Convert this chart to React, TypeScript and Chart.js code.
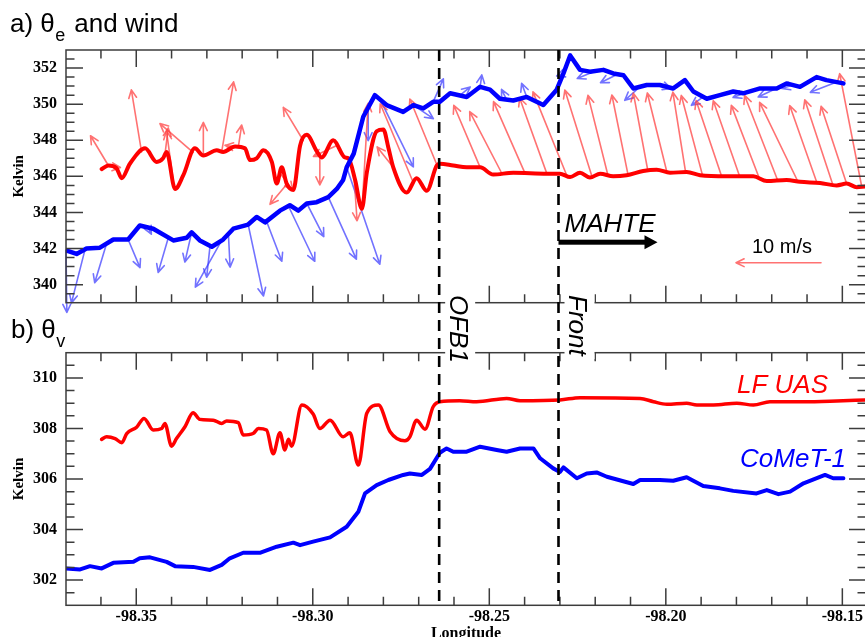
import React, { useEffect, useRef } from "react";
import { Chart, registerables } from "chart.js";

Chart.register(...registerables);

// ---------------- data ----------------
const LON_MIN = -98.3699;
const LON_MAX = -98.1433;
const lonTicks = [-98.35, -98.3, -98.25, -98.2, -98.15];
const thetaETicks = [340, 342, 344, 346, 348, 350, 352];
const thetaVTicks = [302, 304, 306, 308, 310];
const THETA_E_RANGE = [339, 353];
const THETA_V_RANGE = [301, 311];
const OFB1_LON = -98.2642;
const FRONT_LON = -98.2304;
const KEY_SPEED = 10; // m/s

// LF UAS theta_e  [lon, K]
const uasThetaE: number[][] = [
  [-98.3598, 346.4], [-98.3579, 346.6], [-98.3556, 346.45], [-98.3541, 345.9], [-98.3518, 346.7],
  [-98.3475, 347.55], [-98.3442, 346.8], [-98.3424, 347.0], [-98.3414, 347.35], [-98.339, 345.3],
  [-98.3367, 346.05], [-98.3334, 347.55], [-98.331, 347.15], [-98.3272, 347.45], [-98.3254, 347.35],
  [-98.322, 347.65], [-98.3192, 347.55], [-98.3178, 346.9], [-98.3159, 347.0], [-98.314, 347.45],
  [-98.3116, 346.8], [-98.3102, 345.6], [-98.3088, 346.5], [-98.3074, 345.6], [-98.3055, 345.25],
  [-98.3036, 347.7], [-98.3017, 348.3], [-98.2989, 347.4], [-98.2975, 347.05], [-98.2942, 348.0],
  [-98.2909, 347.05], [-98.2899, 347.0], [-98.288, 345.8], [-98.2861, 344.2], [-98.2847, 346.2],
  [-98.2819, 348.5], [-98.28, 348.6], [-98.2786, 347.6], [-98.2772, 346.5], [-98.2734, 345.1],
  [-98.2706, 345.9], [-98.2677, 345.2], [-98.2649, 346.6], [-98.264, 346.7], [-98.2602, 346.6],
  [-98.2564, 346.5], [-98.2526, 346.5], [-98.2489, 346.1], [-98.2432, 346.2], [-98.2337, 346.15],
  [-98.23, 346.15], [-98.2271, 345.96], [-98.2243, 346.2], [-98.2215, 345.93], [-98.2186, 346.15],
  [-98.2149, 346.0], [-98.2111, 346.06], [-98.2064, 346.3], [-98.2026, 346.37], [-98.1988, 346.2],
  [-98.1941, 346.24], [-98.1903, 346.06], [-98.1828, 346.0], [-98.1752, 346.0], [-98.1714, 345.74],
  [-98.1658, 345.8], [-98.162, 345.7], [-98.1563, 345.63], [-98.1516, 345.5], [-98.1488, 345.6],
  [-98.1459, 345.4], [-98.1436, 345.44],
];

// CoMeT-1 theta_e  [lon, K]
const cometThetaE: number[][] = [
  [-98.3699, 341.9], [-98.3669, 341.7], [-98.3641, 342.0], [-98.3603, 342.05], [-98.3565, 342.5],
  [-98.3523, 342.5], [-98.349, 343.28], [-98.3452, 343.1], [-98.3395, 342.45], [-98.3357, 342.6],
  [-98.3343, 342.9], [-98.332, 342.45], [-98.3286, 342.1], [-98.3254, 342.5], [-98.3225, 343.1],
  [-98.3183, 343.33], [-98.3159, 343.75], [-98.3135, 343.45], [-98.3093, 344.1], [-98.3065, 344.4],
  [-98.3041, 344.1], [-98.3017, 344.5], [-98.2989, 344.57], [-98.2956, 344.85], [-98.2932, 345.3],
  [-98.2914, 345.8], [-98.2904, 346.5], [-98.2884, 347.26], [-98.2857, 349.3], [-98.2824, 350.5],
  [-98.2791, 349.95], [-98.2744, 349.57], [-98.2715, 349.95], [-98.2687, 349.76], [-98.2659, 350.13],
  [-98.264, 350.13], [-98.2611, 350.6], [-98.2564, 350.4], [-98.2526, 350.96], [-98.2498, 350.8],
  [-98.247, 350.3], [-98.2432, 350.2], [-98.2394, 350.4], [-98.2347, 349.95], [-98.2309, 350.8],
  [-98.229, 351.7], [-98.2271, 352.7], [-98.2243, 351.9], [-98.2215, 351.8], [-98.2177, 351.9],
  [-98.2149, 351.7], [-98.212, 351.6], [-98.2092, 350.87], [-98.2054, 351.06], [-98.2017, 351.06],
  [-98.1979, 350.87], [-98.1946, 351.33], [-98.1922, 350.7], [-98.1884, 350.3], [-98.1847, 350.5],
  [-98.1809, 350.7], [-98.1781, 350.6], [-98.1733, 350.87], [-98.1686, 350.87], [-98.1658, 351.15],
  [-98.162, 350.96], [-98.1573, 351.5], [-98.1545, 351.33], [-98.1497, 351.15],
];

// LF UAS theta_v  [lon, K]
const uasThetaV: number[][] = [
  [-98.3598, 307.57], [-98.3584, 307.67], [-98.356, 307.6], [-98.3541, 307.44], [-98.3527, 307.8],
  [-98.3499, 308.05], [-98.3478, 308.4], [-98.3452, 307.94], [-98.3428, 308.0], [-98.3419, 308.2],
  [-98.34, 307.3], [-98.3386, 307.6], [-98.3362, 308.07], [-98.3339, 308.62], [-98.332, 308.36],
  [-98.3282, 308.33], [-98.3258, 308.2], [-98.3244, 308.3], [-98.3211, 308.23], [-98.3197, 307.74],
  [-98.3169, 307.8], [-98.3154, 308.0], [-98.3131, 307.94], [-98.3112, 307.0], [-98.3093, 307.83],
  [-98.3079, 307.15], [-98.3069, 307.57], [-98.306, 307.3], [-98.3031, 308.93], [-98.2999, 308.57],
  [-98.298, 308.0], [-98.2951, 308.33], [-98.2914, 307.67], [-98.2895, 307.83], [-98.2871, 306.55],
  [-98.2847, 308.6], [-98.2814, 308.93], [-98.2781, 307.87], [-98.2739, 307.51], [-98.2725, 307.67],
  [-98.2706, 308.33], [-98.2682, 307.97], [-98.2659, 308.86], [-98.264, 309.06], [-98.2584, 309.1],
  [-98.2536, 309.06], [-98.2451, 309.19], [-98.2413, 309.1], [-98.23, 309.13], [-98.2243, 309.22],
  [-98.2073, 309.19], [-98.2035, 309.06], [-98.1997, 308.96], [-98.1941, 309.0], [-98.1912, 308.93],
  [-98.1865, 308.93], [-98.1799, 309.0], [-98.1752, 308.93], [-98.1705, 309.06], [-98.161, 309.06],
  [-98.1516, 309.09], [-98.1436, 309.13],
];

// CoMeT-1 theta_v  [lon, K]
const cometThetaV: number[][] = [
  [-98.3699, 302.46], [-98.3659, 302.42], [-98.3631, 302.55], [-98.3598, 302.46], [-98.3565, 302.68],
  [-98.3508, 302.72], [-98.349, 302.86], [-98.3461, 302.9], [-98.3414, 302.72], [-98.339, 302.55],
  [-98.3339, 302.52], [-98.3291, 302.4], [-98.3258, 302.6], [-98.3235, 302.86], [-98.3197, 303.08],
  [-98.315, 303.08], [-98.3102, 303.32], [-98.3055, 303.48], [-98.3036, 303.38], [-98.2999, 303.52],
  [-98.2951, 303.69], [-98.2904, 304.11], [-98.2871, 304.7], [-98.2852, 305.43], [-98.2819, 305.76],
  [-98.2786, 305.96], [-98.2744, 306.16], [-98.2725, 306.22], [-98.2691, 306.16], [-98.2668, 306.4],
  [-98.264, 307.04], [-98.2621, 307.21], [-98.2602, 307.08], [-98.2564, 307.08], [-98.2526, 307.28],
  [-98.2479, 307.15], [-98.2451, 307.08], [-98.2413, 307.21], [-98.2375, 307.21], [-98.2356, 306.82],
  [-98.2319, 306.42], [-98.23, 306.28], [-98.229, 306.46], [-98.2252, 306.03], [-98.2224, 306.22],
  [-98.2196, 306.26], [-98.2167, 306.09], [-98.2092, 305.8], [-98.2073, 305.96], [-98.2017, 305.96],
  [-98.1979, 305.93], [-98.1941, 306.07], [-98.1894, 305.72], [-98.1847, 305.63], [-98.1809, 305.53],
  [-98.1743, 305.43], [-98.1714, 305.56], [-98.1681, 305.4], [-98.1648, 305.5], [-98.161, 305.83],
  [-98.1549, 306.16], [-98.1526, 306.03], [-98.1497, 306.03],
];

// LF UAS wind  [lon, u m/s, v m/s]
const uasWind: number[][] = [
  [-98.3579, -2.1, 3.5], [-98.3569, 1.0, -0.1], [-98.3485, -1.2, 7.3], [-98.3419, 0.4, 3.2],
  [-98.3395, -0.8, 5.9], [-98.3339, -3.9, 3.4], [-98.331, 0.0, 3.9], [-98.3258, 1.4, 8.2],
  [-98.3211, 0.4, 2.6], [-98.3192, -2.35, 0.35], [-98.3093, 1.5, -2.0], [-98.3073, -2.0, -2.4],
  [-98.3027, -2.35, 3.9], [-98.298, 0.0, -3.5], [-98.2932, -2.75, -1.3], [-98.2883, 0.35, -5.2],
  [-98.286, 0.7, 12.1], [-98.2772, -1.9, 2.4], [-98.2715, -3.9, 9.3], [-98.2648, -3.2, 7.8],
  [-98.2526, -3.1, 7.3], [-98.2464, -3.8, 7.3], [-98.2399, -3.7, 8.4], [-98.2337, -3.2, 8.9],
  [-98.228, -4.0, 9.9], [-98.2209, -3.2, 10.2], [-98.2164, -2.35, 9.4], [-98.2107, -1.9, 9.4],
  [-98.2051, -1.7, 9.1], [-98.1997, -2.3, 9.3], [-98.1944, -1.5, 9.4], [-98.1896, -2.5, 9.4],
  [-98.1842, -3.0, 8.9], [-98.1791, -3.1, 8.9], [-98.1735, -3.3, 8.6], [-98.1683, -3.9, 10.0],
  [-98.1626, -4.5, 9.3], [-98.1572, -3.2, 9.1], [-98.1527, -3.3, 10.0], [-98.1488, -3.0, 9.1],
  [-98.1445, -2.6, 13.3],
];

// CoMeT-1 wind  [lon, u m/s, v m/s]
const cometWind: number[][] = [
  [-98.3699, 0.1, -7.3], [-98.3645, -1.6, -6.3], [-98.3584, -1.4, -4.6], [-98.3523, 1.4, -3.3],
  [-98.3467, 0.4, -0.8], [-98.3409, -1.2, -4.1], [-98.3343, -0.8, -3.5], [-98.3291, -0.4, -3.7],
  [-98.3258, -3.1, -5.5], [-98.3239, 0.2, -3.9], [-98.3183, 1.8, -8.4], [-98.3131, 1.8, -4.7],
  [-98.3069, 3.1, -6.5], [-98.3017, 2.0, -3.9], [-98.2956, 3.3, -7.3], [-98.2904, 3.9, -11.4],
  [-98.2843, 0.0, -3.9], [-98.2809, 3.9, -7.9], [-98.2715, 2.35, -1.6], [-98.2659, 1.2, 2.7],
  [-98.2583, 1.2, 1.0], [-98.2526, 0.2, 1.4], [-98.2451, -0.6, 1.2], [-98.2394, -0.6, 1.6],
  [-98.229, -0.8, -0.3], [-98.2198, -2.2, -0.9], [-98.2137, -2.0, -1.0], [-98.2073, -1.8, -1.6],
  [-98.2007, 0.9, -0.3], [-98.1894, -1.4, -1.0], [-98.1771, -1.6, -0.6], [-98.1677, -2.55, -1.2],
  [-98.164, -1.3, -0.4], [-98.1516, -3.1, -1.2],
];

// ---------------- styles ----------------
const CANVAS_W = 870;
const TOP_H = 330;
const BOT_TOP = 290;
const BOT_H = 360;
const ARROW_PX_PER_MS = 8.5;
const RED = "#ff0000";
const BLUE = "#0000ff";
const RED_ARROW = "rgba(255,60,60,0.72)";
const BLUE_ARROW = "rgba(60,60,255,0.72)";
const FRAME = "#3c3c3c";
const SERIF = "'Liberation Serif', 'Times New Roman', serif";
const SANS = "'Liberation Sans', Arial, sans-serif";

function interp(series: number[][], x: number) {
  if (x <= series[0][0]) return series[0][1];
  for (let i = 1; i < series.length; i++) {
    if (x <= series[i][0]) {
      const [x0, y0] = series[i - 1];
      const [x1, y1] = series[i];
      return y0 + ((y1 - y0) * (x - x0)) / (x1 - x0);
    }
  }
  return series[series.length - 1][1];
}

function drawArrow(ctx: CanvasRenderingContext2D, x0: number, y0: number, x1: number, y1: number,
  color: string, lw: number, headLen: number, headAng: number) {
  const a = Math.atan2(y1 - y0, x1 - x0);
  ctx.save();
  ctx.strokeStyle = color;
  ctx.lineWidth = lw;
  ctx.lineCap = "round";
  ctx.lineJoin = "round";
  ctx.beginPath();
  ctx.moveTo(x0, y0);
  ctx.lineTo(x1, y1);
  ctx.moveTo(x1 - headLen * Math.cos(a - headAng), y1 - headLen * Math.sin(a - headAng));
  ctx.lineTo(x1, y1);
  ctx.lineTo(x1 - headLen * Math.cos(a + headAng), y1 - headLen * Math.sin(a + headAng));
  ctx.stroke();
  ctx.restore();
}

function drawWind(chart: any, series: number[][], winds: number[][], color: string) {
  const { ctx, scales } = chart;
  for (const [lon, u, v] of winds) {
    const x0 = scales.x.getPixelForValue(lon);
    const y0 = scales.y.getPixelForValue(interp(series, lon));
    drawArrow(ctx, x0, y0, x0 + u * ARROW_PX_PER_MS, y0 - v * ARROW_PX_PER_MS, color, 1.6, 9, 0.45);
  }
}

function drawFrame(chart: any, yRange: number[]) {
  const { ctx, chartArea, scales } = chart;
  const { left, right, top, bottom } = chartArea;
  ctx.save();
  ctx.strokeStyle = FRAME;
  ctx.lineWidth = 1.5;
  ctx.strokeRect(left, top, right - left, bottom - top);
  ctx.beginPath();
  for (let k = Math.ceil(LON_MIN * 100); k <= Math.floor(LON_MAX * 100); k++) {
    const px = scales.x.getPixelForValue(k / 100);
    const len = k % 5 === 0 ? 17 : 8.5;
    ctx.moveTo(px, bottom);
    ctx.lineTo(px, bottom - len);
    ctx.moveTo(px, top);
    ctx.lineTo(px, top + len);
  }
  for (let k = yRange[0] * 2 + 1; k < yRange[1] * 2; k++) {
    const py = scales.y.getPixelForValue(k / 2);
    const len = k % 4 === 0 ? 17 : 8.5;
    ctx.moveTo(left, py);
    ctx.lineTo(left + len, py);
    ctx.moveTo(right, py);
    ctx.lineTo(right - len, py);
  }
  ctx.stroke();
  ctx.restore();
}

function drawDashed(chart: any, lon: number, y0: number, y1: number, offset: number) {
  const { ctx, scales } = chart;
  const px = scales.x.getPixelForValue(lon);
  ctx.save();
  ctx.strokeStyle = "#000";
  ctx.lineWidth = 2.6;
  ctx.setLineDash([11, 7]);
  ctx.lineDashOffset = offset;
  ctx.beginPath();
  ctx.moveTo(px, y0);
  ctx.lineTo(px, y1);
  ctx.stroke();
  ctx.restore();
}

function drawPanelTitle(ctx: CanvasRenderingContext2D, x: number, baseline: number, letter: string, sub: string, rest: string) {
  ctx.save();
  ctx.fillStyle = "#000";
  ctx.textBaseline = "alphabetic";
  ctx.textAlign = "left";
  ctx.font = `26px ${SANS}`;
  const main = `${letter}) θ`;
  ctx.fillText(main, x, baseline);
  let cx = x + ctx.measureText(main).width + 0.5;
  ctx.font = `18px ${SANS}`;
  ctx.fillText(sub, cx, baseline + 9);
  cx += ctx.measureText(sub).width;
  if (rest) {
    ctx.font = `26px ${SANS}`;
    ctx.fillText(rest, cx + 9, baseline);
  }
  ctx.restore();
}

function drawRotatedLabel(chart: any, lon: number, text: string, y0: number, boxH: number) {
  const { ctx, scales } = chart;
  const px = scales.x.getPixelForValue(lon);
  ctx.save();
  ctx.fillStyle = "#fff";
  ctx.fillRect(px + 6, y0 - 2, 30, boxH);
  ctx.translate(px + 11, y0);
  ctx.rotate(Math.PI / 2);
  ctx.fillStyle = "#000";
  ctx.font = `italic 26px ${SANS}`;
  ctx.textBaseline = "alphabetic";
  ctx.textAlign = "left";
  ctx.fillText(text, 0, 0);
  ctx.restore();
}

const topPlugin = {
  id: "topPanel",
  beforeDatasetsDraw(chart: any) {
    drawWind(chart, cometThetaE, cometWind, BLUE_ARROW);
    drawWind(chart, uasThetaE, uasWind, RED_ARROW);
  },
  afterDatasetsDraw(chart: any) {
    const { ctx, chartArea, scales } = chart;
    drawFrame(chart, THETA_E_RANGE);
    drawDashed(chart, OFB1_LON, chartArea.top, BOT_TOP, 0);
    drawDashed(chart, FRONT_LON, chartArea.top, BOT_TOP, 0);
    drawPanelTitle(ctx, 10, 32, "a", "e", "and wind");

    // MAHTE motion arrow
    const fx = scales.x.getPixelForValue(FRONT_LON);
    ctx.save();
    ctx.fillStyle = "#000";
    ctx.font = `italic 26px ${SANS}`;
    ctx.textBaseline = "alphabetic";
    ctx.fillText("MAHTE", fx + 6, chartArea.bottom - 71);
    const ay = chartArea.bottom - 60.5;
    ctx.fillRect(fx, ay - 2.5, 88, 5);
    ctx.beginPath();
    ctx.moveTo(fx + 99, ay);
    ctx.lineTo(fx + 86, ay - 7);
    ctx.lineTo(fx + 86, ay + 7);
    ctx.closePath();
    ctx.fill();

    // key arrow 10 m/s
    const kx = chartArea.right - 45;
    const ky = chartArea.bottom - 40;
    ctx.font = `20px ${SANS}`;
    ctx.textAlign = "center";
    ctx.fillText(`${KEY_SPEED} m/s`, kx - 39, ky - 10);
    ctx.restore();
    drawArrow(ctx, kx, ky, kx - KEY_SPEED * ARROW_PX_PER_MS, ky, RED_ARROW, 1.6, 9, 0.45);
  },
};

const bottomPlugin = {
  id: "bottomPanel",
  afterDatasetsDraw(chart: any) {
    const { ctx, chartArea } = chart;
    drawFrame(chart, THETA_V_RANGE);
    drawDashed(chart, OFB1_LON, 0, chartArea.bottom, 240);
    drawDashed(chart, FRONT_LON, 0, chartArea.bottom, 240);
    drawPanelTitle(ctx, 11, 48, "b", "v", "");
    drawRotatedLabel(chart, OFB1_LON, "OFB1", 5, 70);
    drawRotatedLabel(chart, FRONT_LON, "Front", 5, 66);
    ctx.save();
    ctx.font = `italic 26px ${SANS}`;
    ctx.textBaseline = "alphabetic";
    ctx.textAlign = "right";
    ctx.fillStyle = RED;
    ctx.fillText("LF UAS", 828, 103);
    ctx.fillStyle = BLUE;
    ctx.fillText("CoMeT-1", 846, 177);
    ctx.restore();
  },
};

function lineDs(series: number[][], color: string, width: number, smooth: boolean) {
  return {
    data: series.map(([x, y]) => ({ x, y })),
    borderColor: color,
    backgroundColor: color,
    borderWidth: width,
    pointRadius: 0,
    fill: false,
    tension: 0,
    cubicInterpolationMode: smooth ? "monotone" : "default",
    borderJoinStyle: "round",
    borderCapStyle: "round",
  };
}

function makeOptions(yRange: number[], yTicks: number[], showX: boolean, padTop: number, xHeight: number) {
  const tickFont = { family: SERIF, size: 16, weight: "bold" };
  return {
    responsive: false,
    animation: false,
    devicePixelRatio: 1,
    events: [],
    layout: { padding: { top: padTop, left: 0, right: 4, bottom: 0 } },
    plugins: { legend: { display: false }, tooltip: { enabled: false } },
    scales: {
      x: {
        type: "linear",
        min: LON_MIN,
        max: LON_MAX,
        grid: { display: false, drawTicks: false, tickLength: 0 },
        border: { display: false },
        afterBuildTicks: (s: any) => {
          s.ticks = lonTicks.map((value) => ({ value }));
        },
        ticks: {
          display: showX,
          padding: 2,
          autoSkip: false,
          maxRotation: 0,
          color: "#000",
          font: tickFont,
          callback: (v: any) => Number(v).toFixed(2),
        },
        title: {
          display: showX,
          text: "Longitude",
          color: "#000",
          font: { family: SERIF, size: 16, weight: "bold" },
          padding: { top: 0, bottom: 7 },
        },
        afterFit: (s: any) => {
          s.height = xHeight;
        },
      },
      y: {
        type: "linear",
        min: yRange[0],
        max: yRange[1],
        grid: { display: false, drawTicks: false, tickLength: 0 },
        border: { display: false },
        afterBuildTicks: (s: any) => {
          s.ticks = yTicks.map((value) => ({ value }));
        },
        ticks: { padding: 9, color: "#000", font: tickFont, callback: (v: any) => String(v) },
        title: {
          display: true,
          text: "Kelvin",
          color: "#000",
          font: { family: SERIF, size: 15, weight: "bold" },
          padding: { top: 10, bottom: 0 },
        },
        afterFit: (s: any) => {
          s.width = 66;
        },
      },
    },
  };
}

export default function App() {
  const topRef = useRef<HTMLCanvasElement>(null);
  const botRef = useRef<HTMLCanvasElement>(null);

  useEffect(() => {
    const top = new Chart(topRef.current as HTMLCanvasElement, {
      type: "line",
      data: {
        datasets: [
          lineDs(cometThetaE, BLUE, 4.5, false),
          lineDs(uasThetaE, RED, 4, true),
        ],
      },
      options: makeOptions(THETA_E_RANGE, thetaETicks, false, 50, TOP_H - 302.7),
      plugins: [topPlugin],
    } as any);
    const bot = new Chart(botRef.current as HTMLCanvasElement, {
      type: "line",
      data: {
        datasets: [
          lineDs(cometThetaV, BLUE, 4, false),
          lineDs(uasThetaV, RED, 3.5, true),
        ],
      },
      options: makeOptions(THETA_V_RANGE, thetaVTicks, true, 352.7 - BOT_TOP, BOT_TOP + BOT_H - 605.3),
      plugins: [bottomPlugin],
    } as any);
    return () => {
      top.destroy();
      bot.destroy();
    };
  }, []);

  return (
    <div
      style={{
        position: "absolute",
        left: 0,
        top: 0,
        width: 865,
        height: 637,
        overflow: "hidden",
        background: "#fff",
      }}
    >
      <canvas
        ref={topRef}
        width={CANVAS_W}
        height={TOP_H}
        style={{ position: "absolute", left: 0, top: 0, width: CANVAS_W, height: TOP_H }}
      />
      <canvas
        ref={botRef}
        width={CANVAS_W}
        height={BOT_H}
        style={{ position: "absolute", left: 0, top: BOT_TOP, width: CANVAS_W, height: BOT_H }}
      />
    </div>
  );
}
